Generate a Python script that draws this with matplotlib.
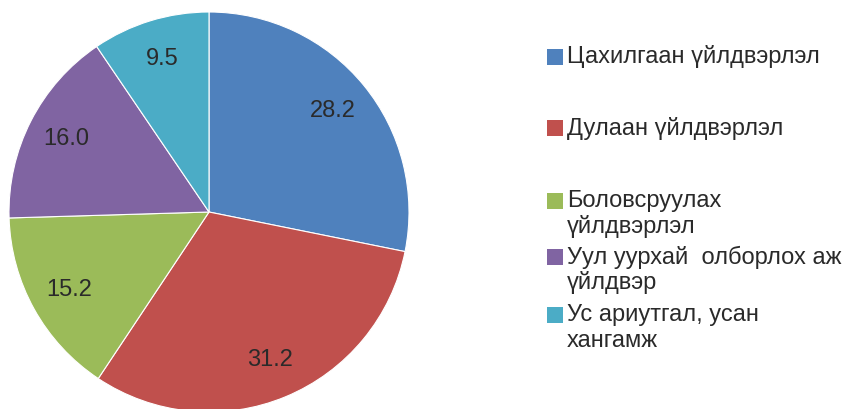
import matplotlib
matplotlib.use("Agg")
import matplotlib.pyplot as plt
from matplotlib.patches import Rectangle

plt.rcParams["font.family"] = ["Liberation Sans", "DejaVu Sans"]

categories = [
    "Цахилгаан үйлдвэрлэл",
    "Дулаан үйлдвэрлэл",
    "Боловсруулах\nүйлдвэрлэл",
    "Уул уурхай  олборлох аж\nүйлдвэр",
    "Ус ариутгал, усан\nхангамж",
]
values = [28.2, 31.2, 15.2, 16.0, 9.5]
colors = ["#4F81BD", "#C0504D", "#9BBB59", "#8064A2", "#4BACC6"]

W, H = 851, 409
fig = plt.figure(figsize=(W / 100, H / 100), dpi=100)

# pie: centre ~ (209, 212) px, radius ~ 200 px
cx, cy, r = 209, 212, 200
ax = fig.add_axes([(cx - r) / W, (H - cy - r) / H, 2 * r / W, 2 * r / H])
total = sum(values)
wedges, texts, autotexts = ax.pie(
    values, colors=colors, startangle=90, counterclock=False,
    autopct=lambda p: f"{p * total / 100:.1f}", pctdistance=0.8,
    wedgeprops=dict(edgecolor="white", linewidth=0.8),
    textprops=dict(fontsize=17, color="#2a2a2a"),
)
ax.set_xlim(-1, 1)
ax.set_ylim(-1, 1)
ax.set_aspect("equal")
ax.axis("off")

# legend, drawn by hand so the marker sits on the first line
legend_y = [57, 128, 201, 257, 315]
line_gap = 26
for w, label, y in zip(wedges, categories, legend_y):
    fig.add_artist(Rectangle((547 / W, (H - y - 8) / H), 16 / W, 16 / H,
                             transform=fig.transFigure,
                             facecolor=w.get_facecolor(), edgecolor="none"))
    for k, line in enumerate(label.split("\n")):
        fig.text(567 / W, (H - y - k * line_gap) / H, line, fontsize=17,
                 color="#2a2a2a", ha="left", va="center")

fig.savefig("out.png", dpi=100)
